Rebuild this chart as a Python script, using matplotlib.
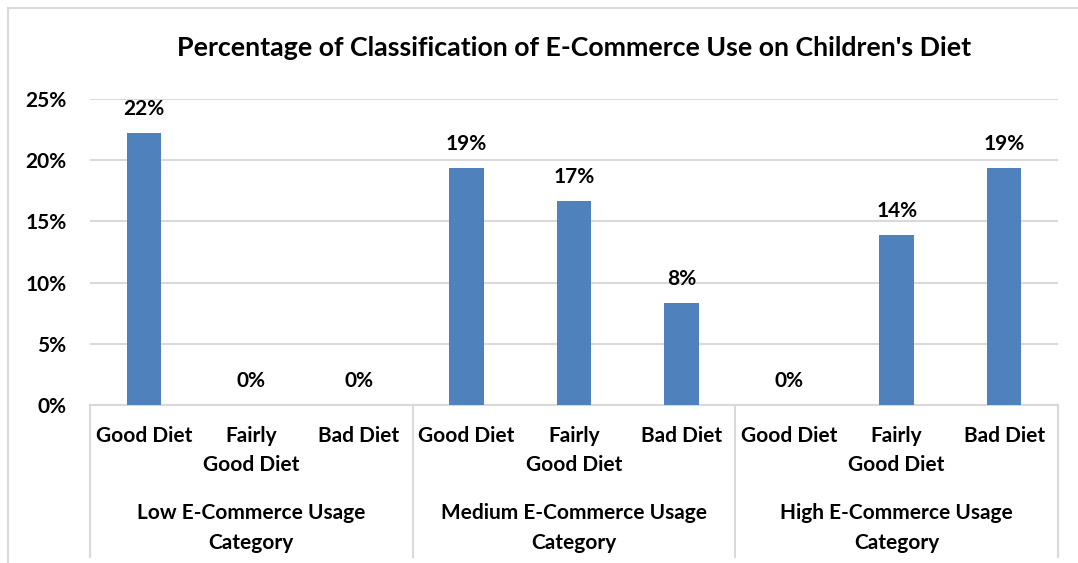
import matplotlib
matplotlib.use("Agg")
import matplotlib.pyplot as plt
from matplotlib.lines import Line2D
from matplotlib.ticker import FuncFormatter
import matplotlib.transforms as mtransforms

# data
diet = ["Good Diet", "Fairly\nGood Diet", "Bad Diet"]
groups = ["Low E-Commerce Usage\nCategory",
          "Medium E-Commerce Usage\nCategory",
          "High E-Commerce Usage\nCategory"]
values = [22.2, 0, 0, 19.4, 16.7, 8.3, 0, 13.9, 19.4]
labels = ["22%", "0%", "0%", "19%", "17%", "8%", "0%", "14%", "19%"]

plt.rcParams['font.family'] = ['Lato', 'DejaVu Sans']
plt.rcParams['font.weight'] = 'bold'

W, H = 1078, 563
fig = plt.figure(figsize=(W / 100, H / 100), dpi=100)
ax = fig.add_axes([90 / W, 1 - 405 / H, (1058 - 90) / W, (405 - 99) / H])

grid_c = "#D9D9D9"
fs = 15
x = list(range(len(values)))
ax.bar(x, values, width=0.32, color="#4F81BD", zorder=3)

for xi, v, lab in zip(x, values, labels):
    ax.annotate(lab, (xi, v), xytext=(0, 24), textcoords="offset pixels",
                ha="center", va="center", fontsize=fs, fontweight="bold")

ax.set_xlim(-0.5, len(values) - 0.5)
ax.set_ylim(0, 25)
ax.set_yticks([0, 5, 10, 15, 20, 25])
ax.yaxis.set_major_formatter(FuncFormatter(lambda v, p: f"{int(v)}%"))
ax.grid(axis="y", color=grid_c, lw=1.5, zorder=0)
for s in ["top", "right", "left"]:
    ax.spines[s].set_visible(False)
ax.spines["bottom"].set_color(grid_c)
ax.spines["bottom"].set_linewidth(1.5)
ax.tick_params(axis="y", length=0, pad=17, labelsize=fs)
ax.tick_params(axis="x", length=0, pad=15, labelsize=fs)
ax.set_xticks(x)
ax.set_xticklabels(diet * 3, linespacing=1.6)
for t in ax.get_yticklabels() + ax.get_xticklabels():
    t.set_fontweight("bold")

# group separators and labels
trans = mtransforms.blended_transform_factory(ax.transData, ax.transAxes)
ybot = -(557 - 405) / (405 - 99)
for b in [-0.5, 2.5, 5.5, 8.5]:
    ax.add_line(Line2D([b, b], [0, ybot], transform=trans, color=grid_c,
                       lw=1.5, clip_on=False))
for i, g in enumerate(groups):
    ax.text(3 * i + 1, -(528 - 405) / (405 - 99), g, transform=trans,
            ha="center", va="center", fontsize=fs, fontweight="bold",
            linespacing=1.65)

ax.set_title("Percentage of Classification of E-Commerce Use on Children's Diet",
             fontsize=19.3, fontweight="bold", pad=31)

# outer chart frame
fig.add_artist(Line2D([8 / W, 1], [1 - 8 / H, 1 - 8 / H], color=grid_c, lw=1.5))
fig.add_artist(Line2D([8 / W, 8 / W], [0, 1 - 8 / H], color=grid_c, lw=1.5))

fig.savefig("out.png", dpi=100)
